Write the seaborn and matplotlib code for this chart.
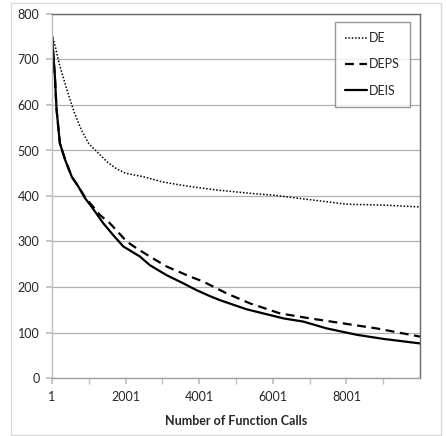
import matplotlib
matplotlib.use("Agg")
import matplotlib.pyplot as plt
import seaborn as sns
import pandas as pd
from matplotlib.patches import Rectangle

# ---- data ----
de_x = [1, 100, 200, 400, 600, 800, 1000, 1250, 1500, 1750, 2000, 2500, 3000,
        3500, 4000, 4500, 5000, 5500, 6000, 6500, 7000, 7500, 8000, 8500, 9000,
        9500, 10000]
de_y = [755, 725, 690, 635, 585, 545, 515, 495, 475, 460, 450, 442, 431,
        424, 418, 413, 409, 405, 402, 397, 392, 387, 382, 381, 380,
        378, 376]

deis_x = [1, 80, 125, 215, 360, 540, 715, 900, 1080, 1395, 1665, 1940, 2390,
          2660, 3115, 3570, 3930, 4290, 4565, 5290, 6290, 6830, 7465, 8280,
          9000, 10000]
deis_y = [752, 662, 590, 516, 479, 442, 421, 395, 376, 340, 314, 289, 267,
          248, 226, 208, 193, 180, 171, 151, 131, 124, 109, 95,
          86, 76]

deps_x = [1, 80, 125, 215, 360, 540, 715, 900, 1080, 1305, 1575, 2030, 2300,
          2660, 3115, 3750, 4110, 4745, 5380, 6195, 7010, 7915, 8820, 10000]
deps_y = [752, 662, 590, 516, 479, 442, 421, 397, 380, 358, 340, 300, 285,
          267, 245, 223, 212, 186, 164, 142, 131, 120, 109, 91]

series_names = ["DE", "DEPS", "DEIS"]
x_tick_values = [1, 2001, 4001, 6001, 8001]
x_tick_labels = ["1", "2001", "4001", "6001", "8001"]
y_tick_values = [0, 100, 200, 300, 400, 500, 600, 700, 800]
x_label = "Number of Function Calls"

df = pd.concat([
    pd.DataFrame({"calls": de_x, "value": de_y, "series": "DE"}),
    pd.DataFrame({"calls": deps_x, "value": deps_y, "series": "DEPS"}),
    pd.DataFrame({"calls": deis_x, "value": deis_y, "series": "DEIS"}),
])

sns.set_theme(style="white")
plt.rcParams["font.family"] = ["Lato", "DejaVu Sans"]

fig = plt.figure(figsize=(4.46, 4.36), dpi=100)
ax = fig.add_axes([52 / 446, 58 / 436, 368 / 446, 364 / 436])

styles = {"DE": (0, (1, 1.2)), "DEPS": (0, (4, 2.5)), "DEIS": "-"}
widths = {"DE": 1.1, "DEPS": 1.6, "DEIS": 1.6}
for name in series_names:
    sub = df[df["series"] == name]
    sns.lineplot(data=sub, x="calls", y="value", ax=ax, color="black",
                 linestyle=styles[name], linewidth=widths[name], label=name,
                 estimator=None, sort=False)

ax.set_xlim(1, 10000)
ax.set_ylim(0, 800)
ax.set_yticks(y_tick_values)
ax.set_yticklabels([str(v) for v in y_tick_values], fontsize=9)
ax.set_xticks(x_tick_values)
ax.set_xticklabels(x_tick_labels, fontsize=9)
ax.set_xticks([1001, 3001, 5001, 7001, 9001], minor=True)
ax.tick_params(axis="x", which="both", direction="out", length=4,
               color="#bfbfbf", bottom=True, pad=5)
ax.tick_params(axis="y", which="both", direction="out", length=4,
               color="#bfbfbf", left=True, pad=5)
ax.set_xlabel(x_label, fontsize=9, fontweight="bold", labelpad=9)
ax.set_ylabel("")
ax.grid(axis="y", color="#b0b0b0", linewidth=0.9)
ax.grid(axis="x", visible=False)
ax.set_axisbelow(True)

ax.spines["left"].set_color("#bfbfbf")
ax.spines["bottom"].set_color("#a0a0a0")
ax.spines["top"].set_color("#6a6a6a")
ax.spines["right"].set_color("#6a6a6a")
for s in ax.spines.values():
    s.set_linewidth(1.0)

leg = ax.legend(loc="upper right", bbox_to_anchor=(410 / 446, 414 / 436),
                bbox_transform=fig.transFigure, frameon=True, fancybox=False,
                fontsize=9, handlelength=1.75, handletextpad=0.2,
                labelspacing=1.15, borderpad=0.8, borderaxespad=0)
leg.get_frame().set_edgecolor("#7f7f7f")
leg.get_frame().set_linewidth(1.0)

fig.patches.append(Rectangle((11 / 446, 1 / 436), 430 / 446, 432 / 436,
                             transform=fig.transFigure, fill=False,
                             edgecolor="#d9d9d9", linewidth=1.0))

fig.savefig("out.png", dpi=100)
